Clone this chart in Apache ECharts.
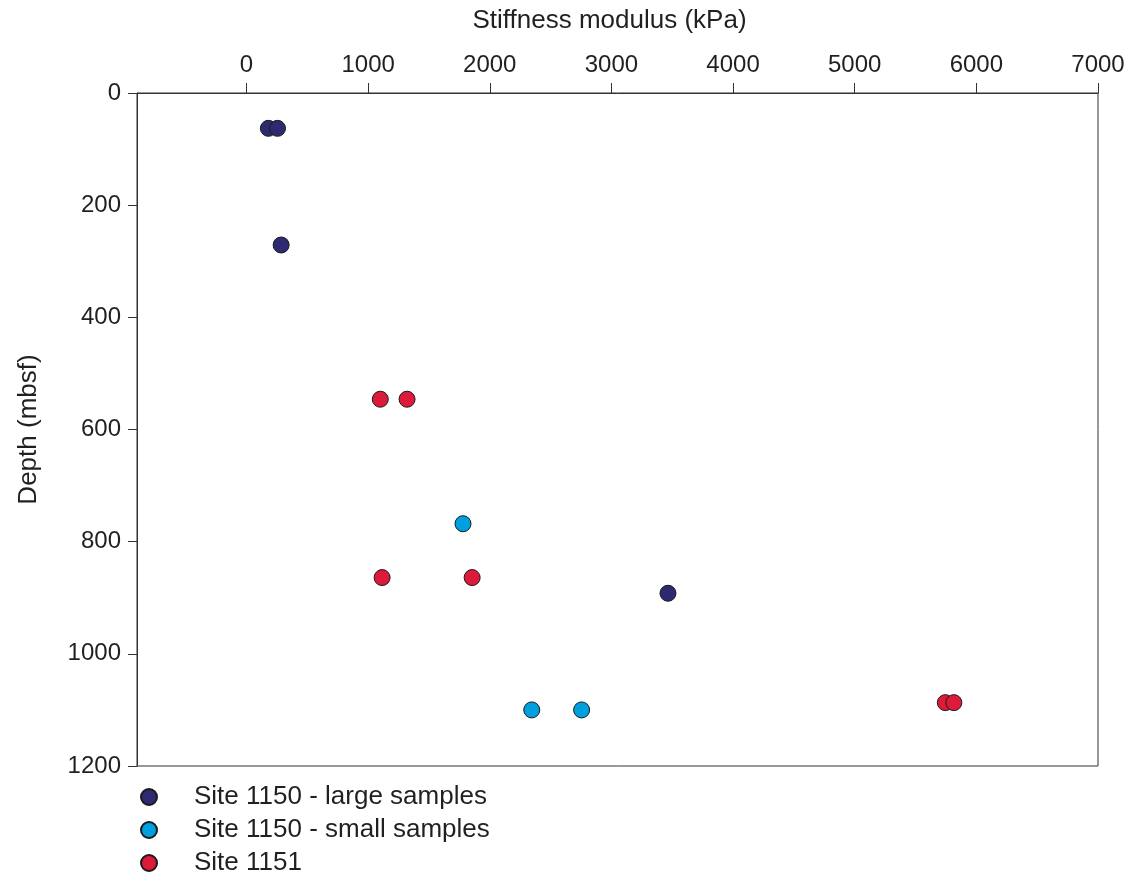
<!DOCTYPE html>
<html>
<head>
<meta charset="utf-8">
<script src="https://cdn.jsdelivr.net/npm/echarts@6/dist/echarts.min.js"></script>
<style>html,body{margin:0;padding:0;background:#fff}#c{width:1128px;height:882px}</style>
</head>
<body>
<div id="c"></div>
<script>
const xTicks = [0, 1000, 2000, 3000, 4000, 5000, 6000, 7000];
const yTicks = [0, 200, 400, 600, 800, 1000, 1200];
const seriesNames = ['Site 1150 - large samples', 'Site 1150 - small samples', 'Site 1151'];
const large1150 = [[180, 63], [255, 63], [285, 271], [3465, 892]];
const small1150 = [[1780, 768], [2345, 1100], [2755, 1100]];
const site1151 = [[1100, 546], [1320, 546], [1115, 864], [1855, 864], [5745, 1087], [5815, 1087]];
const colors = ['#2e2a72', '#00a0e0', '#dc1a3a'];

const txt = '#231f20';
const font = 'Liberation Sans, Arial, Helvetica, sans-serif';
const chart = echarts.init(document.getElementById('c'));
const mk = (name, data, color) => ({
  name, type: 'scatter', data, symbol: 'circle', symbolSize: 16,
  itemStyle: { color, borderColor: '#1a1a1a', borderWidth: 1, opacity: 1 }
});
chart.setOption({
  animation: false,
  backgroundColor: '#fff',
  grid: { left: 137, right: 30, top: 93, bottom: 116, show: true, borderColor: '#333', borderWidth: 1 },
  xAxis: {
    type: 'value', position: 'top', min: -900, max: 7000,
    name: 'Stiffness modulus (kPa)', nameLocation: 'middle', nameGap: 59,
    nameTextStyle: { fontSize: 26, color: txt, fontFamily: font, padding: [0, 16, 0, 0] },
    axisLine: { show: true, onZero: false, lineStyle: { color: '#333', width: 1 } },
    axisTick: { show: true, length: 10, customValues: xTicks, lineStyle: { color: '#333' } },
    axisLabel: { customValues: xTicks, fontSize: 24, color: txt, fontFamily: font, margin: 16,
      formatter: v => String(v) },
    splitLine: { show: false }
  },
  yAxis: {
    type: 'value', inverse: true, min: 0, max: 1200, interval: 200,
    name: 'Depth (mbsf)', nameLocation: 'middle', nameGap: 95,
    nameTextStyle: { fontSize: 26, color: txt, fontFamily: font },
    axisLine: { show: true, onZero: false, lineStyle: { color: '#333', width: 1 } },
    axisTick: { show: true, length: 9, customValues: yTicks, lineStyle: { color: '#333' } },
    axisLabel: { customValues: yTicks, fontSize: 24, color: txt, fontFamily: font, margin: 16,
      formatter: v => String(v) },
    splitLine: { show: false }
  },
  legend: {
    orient: 'vertical', left: 140, top: 784, itemGap: 7, padding: 0,
    itemWidth: 16, itemHeight: 16, icon: 'circle',
    data: seriesNames,
    textStyle: { fontSize: 26, color: txt, fontFamily: font, padding: [0, 0, 0, 32] }
  },
  series: [
    mk(seriesNames[0], large1150, colors[0]),
    mk(seriesNames[1], small1150, colors[1]),
    mk(seriesNames[2], site1151, colors[2])
  ]
});
</script>
</body>
</html>
